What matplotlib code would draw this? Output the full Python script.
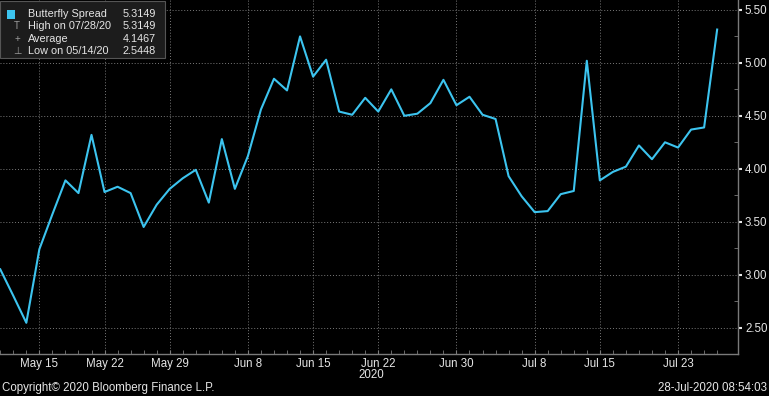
import numpy as np
import pandas as pd
import matplotlib
matplotlib.use("Agg")
import matplotlib.pyplot as plt
from matplotlib.patches import Rectangle

# business days shown on the chart
dates = pd.bdate_range("2020-05-12", "2020-07-28")
values = [3.05, 2.80, 2.5448, 3.24, 3.57, 3.89, 3.77, 4.32, 3.78, 3.83,
          3.77, 3.45, 3.66, 3.81, 3.91, 3.99, 3.68, 4.28, 3.81, 4.12,
          4.56, 4.85, 4.74, 5.25, 4.87, 5.03, 4.54, 4.51, 4.67, 4.54,
          4.75, 4.50, 4.52, 4.62, 4.84, 4.60, 4.68, 4.51, 4.47, 3.93,
          3.74, 3.59, 3.60, 3.76, 3.79, 5.02, 3.89, 3.97, 4.02, 4.22,
          4.09, 4.25, 4.20, 4.37, 4.39, 5.3149]

tick_dates = ["2020-05-15", "2020-05-22", "2020-05-29", "2020-06-08", "2020-06-15",
              "2020-06-22", "2020-06-30", "2020-07-08", "2020-07-15", "2020-07-23"]
tick_labels = ["May 15", "May 22", "May 29", "Jun 8", "Jun 15",
               "Jun 22", "Jun 30", "Jul 8", "Jul 15", "Jul 23"]
y_ticks = [2.50, 3.00, 3.50, 4.00, 4.50, 5.00, 5.50]

legend_names = ["Butterfly Spread", "High on 07/28/20", "Average", "Low on 05/14/20"]
legend_values = ["5.3149", "5.3149", "4.1467", "2.5448"]

line_color = "#3cc4ef"
txt_color = "#e6e6e6"
grid_color = "#7a7a7a"
plt.rcParams["font.family"] = ["Liberation Sans", "DejaVu Sans"]
fs = 8.3

x = np.arange(len(dates))
tick_pos = [dates.get_loc(pd.Timestamp(d)) for d in tick_dates]

fig = plt.figure(figsize=(7.69, 3.96), dpi=100, facecolor="black")
ax = fig.add_axes([0, 42 / 396, 738 / 769, 354 / 396], facecolor="black")

ax.plot(x, values, color=line_color, lw=1.5)

ax.set_xlim(-0.02, 56.6)
ax.set_ylim(2.265, 5.594)

ax.set_xticks(tick_pos)
ax.set_xticklabels(tick_labels)
ax.set_xticks(x, minor=True)
ax.set_yticks(y_ticks)
ax.set_yticklabels([f"{v:.2f}" for v in y_ticks])
ax.set_yticks(np.arange(2.25, 5.6, 0.25), minor=True)
ax.yaxis.tick_right()

ax.tick_params(axis="x", which="both", direction="in", length=3, color=grid_color,
               labelcolor=txt_color, labelsize=fs, pad=3)
ax.tick_params(axis="y", which="major", direction="out", length=3, width=1.5, color=txt_color,
               labelcolor=txt_color, labelsize=fs, pad=2)
ax.tick_params(axis="y", which="minor", direction="in", length=3, color=grid_color)

ax.grid(True, which="major", color=grid_color, ls=(0, (1, 2)), lw=0.7)
for side in ["top", "left"]:
    ax.spines[side].set_visible(False)
for side in ["bottom", "right"]:
    ax.spines[side].set_color(grid_color)
    ax.spines[side].set_linewidth(1)

fig.text(371 / 769, 1 - 375 / 396, "2020", ha="center", va="center",
         color=txt_color, fontsize=fs)

# legend box in the top left
lfs = 7.8
ax.add_patch(Rectangle((0, 1 - 58 / 354), 165 / 738, 57 / 354, transform=ax.transAxes,
                       facecolor="#1c1c1c", edgecolor="#555555", lw=0.8, zorder=5))
ax.add_patch(Rectangle((7 / 738, 1 - 19 / 354), 8 / 738, 9 / 354, transform=ax.transAxes,
                       facecolor=line_color, edgecolor="none", zorder=6))
for i, (name, val) in enumerate(zip(legend_names, legend_values)):
    yy = 1 - (14 + 12.3 * i) / 354
    ax.text(28 / 738, yy, name, transform=ax.transAxes, va="center", ha="left",
            color=txt_color, fontsize=lfs, zorder=6)
    ax.text(156 / 738, yy, val, transform=ax.transAxes, va="center", ha="right",
            color=txt_color, fontsize=lfs, zorder=6)
marks = ["", "T", "+", "\u22a5"]
for i, m in enumerate(marks[1:], start=1):
    yy = 1 - (14 + 12.3 * i) / 354
    ax.text(17 / 738, yy, m, transform=ax.transAxes, va="center", ha="center",
            color="#9a9a9a", fontsize=7, zorder=6)

fig.text(2 / 769, 1 - 388 / 396, "Copyright\u00a9 2020 Bloomberg Finance L.P.", color=txt_color,
         fontsize=fs, va="center", ha="left")
fig.text(767 / 769, 1 - 388 / 396, "28-Jul-2020 08:54:03", color=txt_color,
         fontsize=fs, va="center", ha="right")

fig.savefig("out.png", dpi=100, facecolor="black")
